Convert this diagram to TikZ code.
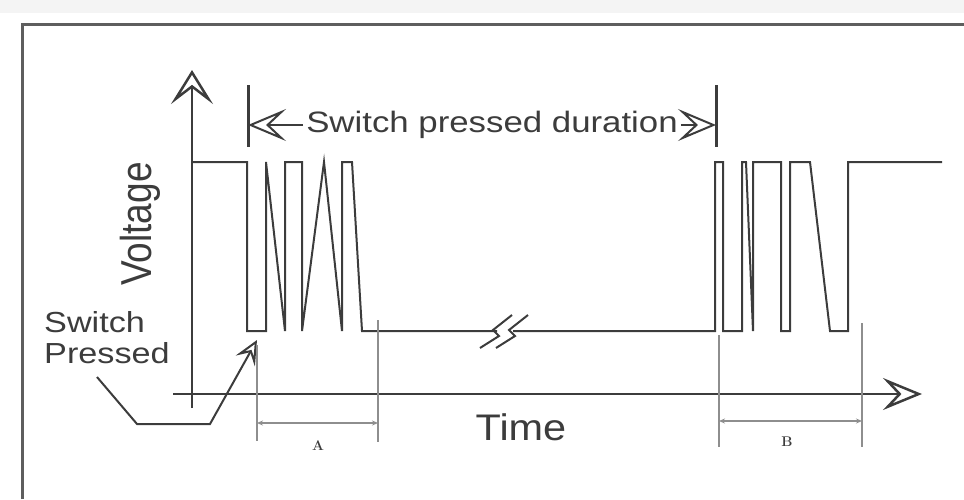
\documentclass[tikz,border=0pt]{standalone}
\usepackage{fontspec}
\usepackage{xcolor}
\usepackage{tikz}
\usetikzlibrary{arrows.meta}
\newfontfamily\arialfont{Liberation Sans}
\definecolor{sigcol}{HTML}{3C3C3C}
\definecolor{framecol}{HTML}{5E5E5E}
\definecolor{dimcol}{HTML}{8E8E8E}
\definecolor{bandcol}{HTML}{F4F4F4}

\begin{document}
\begin{tikzpicture}[
    x=1pt, y=-1pt,
    line width=2pt,
    sig/.style={draw=sigcol, line width=2pt, line join=miter},
    dimline/.style={draw=dimcol, line width=1.4pt},
    lbl/.style={text=sigcol, inner sep=0pt}
]
\useasboundingbox (0,0) rectangle (964,499);

% Top band and frame
\fill[bandcol] (0,0) rectangle (964,13);
\draw[framecol, line width=3pt] (22,499) -- (22,24) -- (966,24);

% Axes
\draw[sigcol, line width=2.5pt, -{Stealth[open, length=34pt, width=42pt, inset=16pt]}]
    (192,408) -- (192,70);
\draw[sigcol, line width=2.5pt, -{Stealth[open, length=39pt, width=32pt, inset=15pt]}]
    (173,394) -- (922,394);

% Signal, first bounce burst
\draw[sig] (193,162) -- (247,162) -- (247,331) -- (266,331) -- (266,162)
    -- (285,331) -- (285,162) -- (302,162) -- (302,331) -- (324,162)
    -- (342,331) -- (342,162) -- (352,162) -- (362,331) -- (497,331);

% Break mark
\draw[sig] (480,348) -- (499,336) -- (493,330) -- (512,315);
\draw[sig] (496,348) -- (515,336) -- (509,330) -- (528,315);

% Signal, second bounce burst
\draw[sig] (513,331) -- (715,331) -- (715,162) -- (723,162) -- (723,331)
    -- (742,331) -- (742,162) -- (746,162) -- (753,331) -- (753,162)
    -- (781,162) -- (781,331) -- (790,331) -- (790,162) -- (810,162)
    -- (830,331) -- (848,331) -- (848,162) -- (942,162);

% Switch pressed duration
\coordinate (durL) at (248,124);
\coordinate (durR) at (716,124);
\draw[sigcol, line width=3pt] (248,85) -- (248,147);
\draw[sigcol, line width=3pt] (716,85) -- (716,147);
\node[lbl, font=\arialfont\fontsize{29.5}{32}\selectfont, xscale=1.18]
    (dur) at (492,125) {Switch pressed duration};
\draw[sigcol, line width=2pt, -{Stealth[open, length=38pt, width=32pt, inset=17pt]}]
    ([xshift=-2pt]dur.west) -- (dur.west -| durL);
\draw[sigcol, line width=2pt, -{Stealth[open, length=38pt, width=32pt, inset=17pt]}]
    ([xshift=2pt]dur.east) -- (dur.east -| durR);

% Axis labels
\node[lbl, font=\arialfont\fontsize{37}{40}\selectfont, xscale=1.17, rotate=90]
    (volt) at (140,224) {Voltage};
\node[lbl, font=\arialfont\fontsize{37}{40}\selectfont, xscale=1.12]
    (time) at (521,427) {Time};

% Switch pressed pointer
\node[lbl, font=\arialfont\fontsize{29}{31}\selectfont, align=left, anchor=west, xscale=1.18]
    (sw) at (43,338) {Switch\\Pressed};
\coordinate (ptrStart) at (97,377);
\coordinate (ptrTip) at (257,340);
\draw[sigcol, line width=2pt, -{Stealth[open, length=24pt, width=22pt, inset=10pt]}]
    (ptrStart) -- (137,424) -- (210,424) -- (ptrTip);

% Bounce time A
\draw[dimline] (257,345) -- (257,441);
\draw[dimline] (378,320) -- (378,442);
\draw[dimline, {Stealth[length=6pt, width=5pt]}-{Stealth[length=6pt, width=5pt]}]
    (257,423) -- (378,423);
\node[lbl, font=\fontsize{14}{15}\selectfont\bfseries] (dimA) at (318,446) {A};

% Bounce time B
\draw[dimline] (719,335) -- (719,447);
\draw[dimline] (862,323) -- (862,447);
\draw[dimline, {Stealth[length=6pt, width=5pt]}-{Stealth[length=6pt, width=5pt]}]
    (719,421) -- (862,421);
\node[lbl, font=\fontsize{14}{15}\selectfont\bfseries] (dimB) at (787,442) {B};
\end{tikzpicture}
\end{document}
